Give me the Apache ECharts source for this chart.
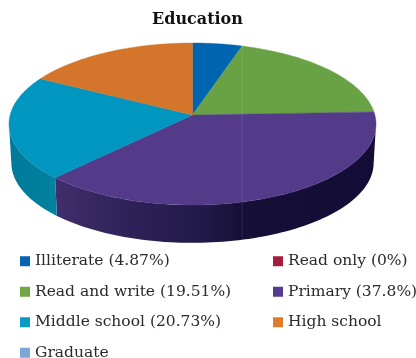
<!DOCTYPE html>
<html><head><meta charset="utf-8">
<style>html,body{margin:0;padding:0;background:#fff}#c{width:416px;height:358px}</style>
<script src="https://cdn.jsdelivr.net/npm/echarts@6/dist/echarts.min.js"></script>
</head><body><div id="c"></div>
<script>
const categories = ['Illiterate','Read only','Read and write','Primary','Middle school','High school','Graduate'];
const legendLabels = ['Illiterate (4.87%)','Read only (0%)','Read and write (19.51%)','Primary (37.8%)','Middle school (20.73%)','High school','Graduate'];
const values = [4.87,0,19.51,37.8,20.73,17.09,0];
const legendColors = ['#0563b0','#a51c3c','#70a742','#553a91','#0a9bc4','#e07b2c','#7aa7d9'];
const topColors = ['#0065b0','#a51c3c','#69a244','#533b8a','#0096bf','#d4752b','#7aa7d9'];
const flat = c => [[0,c],[1,c]];
const sideStops = [flat('#004a80'),flat('#700020'),flat('#4a7a30'),
  [[0,'#412e6d'],[0.14,'#35265f'],[0.27,'#2c2056'],[0.45,'#221a4a'],[0.58,'#161038'],[1,'#130c36']],
  [[0,'#007a9a'],[1,'#00829f']],flat('#a05520'),flat('#5a80b0')];

const view = {cx:192.5, cy:115, R:182.4, S:80, k:1/9, drop:39, shrink:0.987};
const total = values.reduce((a,b)=>a+b,0);
function proj(deg, lower){
  const a = deg*Math.PI/180, u = Math.sin(a), v = -Math.cos(a), w = 1 - view.k*v;
  const s = lower ? view.shrink : 1;
  return [view.cx + s*view.R*u/w, view.cy + (lower?view.drop:0) + s*view.S*v/w];
}
function arc(a0,a1,lower){
  const n = Math.max(2,Math.ceil(Math.abs(a1-a0)/1.5)), pts=[];
  for(let i=0;i<=n;i++) pts.push(proj(a0+(a1-a0)*i/n,lower));
  return pts;
}
const visible = Math.acos(-view.k)*180/Math.PI;
function renderSlice(idx){
  return function(params, api){
    const before = values.slice(0,idx).reduce((a,b)=>a+b,0);
    const a0 = before/total*360, a1 = (before+values[idx])/total*360;
    const kids = [];
    if(values[idx] <= 0) return {type:'group',children:kids};
    const s0 = Math.max(a0,visible), s1 = Math.min(a1,360-visible);
    if(s1 > s0){
      const top = arc(s0,s1,false), bot = arc(s0,s1,true).reverse();
      const xs = top.concat(bot).map(p=>p[0]);
      const x0 = Math.min(...xs), x1 = Math.max(...xs);
      kids.push({type:'polygon',z2:1,shape:{points:top.concat(bot)},
        style:{fill:new echarts.graphic.LinearGradient(x0,0,x1,0,
          sideStops[idx].map(s=>({offset:s[0],color:s[1]})),true),
          stroke:null}});
    }
    const pts = [[view.cx,view.cy]].concat(arc(a0,a1,false));
    kids.push({type:'polygon',z2:2,shape:{points:pts},
      style:{fill:topColors[idx],stroke:topColors[idx],lineWidth:0.4}});
    if(idx===0){
      const p = proj(a1,false);
      kids.push({type:'line',z2:3,shape:{x1:p[0],y1:p[1],x2:p[0],y2:proj(160,true)[1]},
        style:{stroke:'rgba(255,255,255,0.10)',lineWidth:1}});
    }
    return {type:'group',children:kids};
  };
}
const font = '"DejaVu Serif",serif';
const series = categories.map((c,i)=>({
  type:'custom',name:legendLabels[i],coordinateSystem:'none',
  data:[values[i]],renderItem:renderSlice(i),
  itemStyle:{color:legendColors[i]},silent:true,animation:false
}));
function legend(idx,left){
  return {orient:'vertical',left:left,top:252,height:140,itemWidth:10,itemHeight:10,itemGap:12,icon:'rect',
    data:idx.map(i=>legendLabels[i]),selectedMode:false,padding:0,
    textStyle:{fontFamily:font,fontSize:15.5,color:'#2a2a2a',padding:0,lineHeight:18.5}};
}
const chart = echarts.init(document.getElementById('c'),null,{renderer:'canvas'});
chart.setOption({
  backgroundColor:'#fff',animation:false,
  title:{text:'Education',left:152,top:12,padding:0,
    textStyle:{fontFamily:font,fontWeight:'bold',fontSize:16,color:'#111'}},
  legend:[legend([0,2,4,6],20),legend([1,3,5],273)],
  series:series
});
</script></body></html>
